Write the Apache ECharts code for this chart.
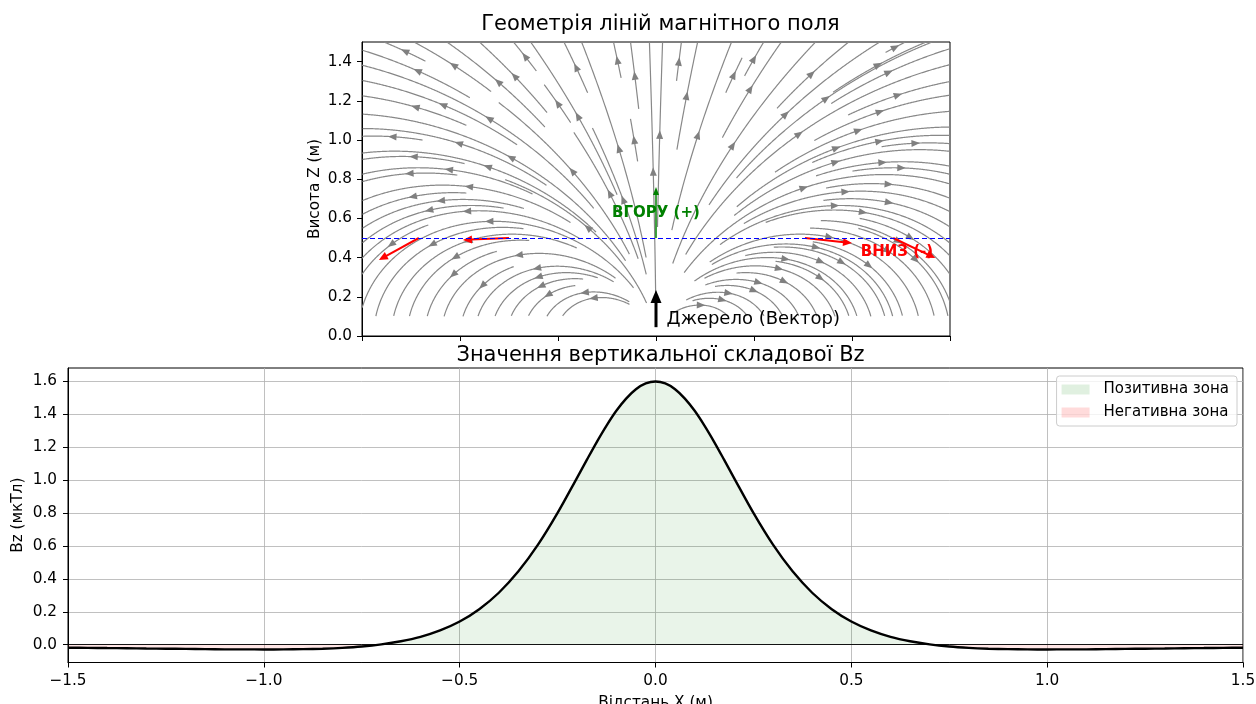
<!DOCTYPE html>
<html>
<head>
<meta charset="utf-8">
<script src="https://cdn.jsdelivr.net/npm/echarts@6/dist/echarts.min.js"></script>
<style>
html, body { margin: 0; padding: 0; background: #fff; }
#main { width: 1256px; height: 704px; }
</style>
</head>
<body>
<div id="main"></div>
<script>
// ---------- lower panel: Bz along the line z = 0.5 ----------
var bzX = [-1.5,-1.45,-1.4,-1.35,-1.3,-1.25,-1.2,-1.15,-1.1,-1.05,
  -1.0,-0.95,-0.9,-0.85,-0.8,-0.75,-0.7,-0.65,-0.6,-0.55,
  -0.5,-0.45,-0.4,-0.35,-0.3,-0.25,-0.2,-0.175,-0.15,-0.125,-0.1,-0.075,-0.05,-0.025,
  0,
  0.025,0.05,0.075,0.1,0.125,0.15,0.175,0.2,0.25,0.3,0.35,0.4,0.45,0.5,
  0.55,0.6,0.65,0.7,0.75,0.8,0.85,0.9,0.95,1.0,
  1.05,1.1,1.15,1.2,1.25,1.3,1.35,1.4,1.45,1.5];
var bzVal = [-0.018,-0.019,-0.020,-0.021,-0.023,-0.024,-0.025,-0.027,-0.028,-0.028,
  -0.029,-0.028,-0.027,-0.024,-0.019,-0.011,0.002,0.021,0.048,0.087,
  0.141,0.216,0.316,0.446,0.608,0.801,1.016,1.125,1.232,1.332,1.422,1.496,1.553,1.588,
  1.600,
  1.588,1.553,1.496,1.422,1.332,1.232,1.125,1.016,0.801,0.608,0.446,0.316,0.216,0.141,
  0.087,0.048,0.021,0.002,-0.011,-0.019,-0.024,-0.027,-0.028,-0.029,
  -0.028,-0.028,-0.027,-0.025,-0.024,-0.023,-0.021,-0.020,-0.019,-0.018];
var bzTicks = [0, 0.2, 0.4, 0.6, 0.8, 1.0, 1.2, 1.4, 1.6];
var zTicks = [0, 0.2, 0.4, 0.6, 0.8, 1.0, 1.2, 1.4];

// ---------- upper panel: field lines r = L*sin^2(theta) ----------
// [L, start angle, end angle] in degrees from the vertical
var linesLeft = [
  [0.51,40,90],[0.584,38,90],[0.675,58,90],[0.76,52,90],[0.84,45,90],[0.925,38,90],
  [1.0,64,90],[1.095,35,90],[1.18,62,90],[1.27,53,90],[1.35,42,90],[1.44,51,90],
  [1.52,25,90],[1.6,64,90],[1.66,38,90],[1.73,50,90],[1.81,46,90],[1.9,53,90],
  [2.0,37,90],[2.16,51,90],[2.23,41,90],[2.3,16,44],[2.38,48,90],[2.45,30,90],
  [2.65,50,90],[2.75,36,90],[2.95,22,90],[3.23,42,90],[3.49,36,90],[3.77,26,90],
  [4.07,38,90],[4.43,40,90],[4.6,18,34],[4.81,34,90],[5.48,28,90],[6.6,26,90],
  [8.0,13,22],[8.5,21.8,24],[8.76,24.3,90],[10.6,15.4,90],[13,9,17],[17.6,15.7,90],
  [25.7,7.2,90],[74,7.7,90],[82,6.0,6.7],[202,4.35,90],[3000,0.44,90]
];
var linesRight = [
  [0.41,36,90],[0.5,46,90],[0.58,40,90],[0.67,50,90],[0.75,44,90],[0.84,52,90],
  [0.93,40,90],[1.0,58,90],[1.04,35,90],[1.11,48,90],[1.18,53,90],[1.22,38,90],
  [1.27,59,90],[1.35,36,90],[1.43,55,90],[1.5,62,90],
  [1.53,55,90],[1.6,60,90],[1.67,44,90],[1.73,35,90],[1.82,51,90],[1.92,38,90],
  [2.02,49,90],[2.14,24,90],[2.23,50,90],[2.31,45,90],[2.47,33,90],[2.56,50,90],
  [2.66,42,90],[2.77,32,90],[2.99,36,90],[3.24,39,90],[3.47,41,90],[3.78,20,90],
  [4.1,37,90],[4.39,27,90],[4.45,36,90],[4.7,39,90],[5.14,22,90],[5.97,28,90],
  [7.5,13,90],[10.6,18.5,90],[13.5,18.8,90],[17,16,17.2],[25,8.5,90],
  [77,6.4,90],[203,4.6,90],[3000,0.78,90]
];

// field direction arrows on the z = 0.5 line: start x, dx, dz
var probeX = [-1.21, -0.75, 0.76, 1.21];
var probeDX = [-0.204, -0.235, 0.24, 0.215];
var probeDZ = [-0.112, -0.01, -0.026, -0.102];
var upArrow = [0, 0.5, 0, 0.26];
var sourceArrow = [0, 0.045, 0, 0.19];
var measureZ = 0.5;

var FONT = 'DejaVu Sans';
var chart = echarts.init(document.getElementById('main'));

var streamData = [];
linesLeft.forEach(function (l) { streamData.push([-1, l[0], l[1], l[2]]); });
linesRight.forEach(function (l) { streamData.push([1, l[0], l[1], l[2]]); });

function renderStream(params, api) {
  var side = api.value(0), L = api.value(1);
  var a = api.value(2) * Math.PI / 180, b = api.value(3) * Math.PI / 180;
  var pts = [], started = false, th = a;
  while (th <= b + 1e-9) {
    var s = Math.sin(th), c = Math.cos(th), r = L * s * s;
    if (r > 2.3) break;
    var x = side * r * s, z = r * c;
    if (z >= 0.1 && z <= 1.5 && x >= -1.5 && x <= 1.5) {
      pts.push(api.coord([x, z]));
      started = true;
    } else if (started) break;
    var dr = 2 * L * s * c;
    th += Math.min(0.01, 0.004 / Math.sqrt(dr * dr + r * r + 1e-12));
  }
  if (pts.length < 2) return null;
  var seg = [], len = 0, i;
  for (i = 1; i < pts.length; i++) {
    var d = Math.hypot(pts[i][0] - pts[i - 1][0], pts[i][1] - pts[i - 1][1]);
    seg.push(d); len += d;
  }
  var half = len / 2, acc = 0, k = 0;
  while (k < seg.length - 1 && acc + seg[k] < half) { acc += seg[k]; k++; }
  var p0 = pts[k], p1 = pts[k + 1], sl = seg[k] || 1;
  var t = (half - acc) / sl;
  var mx = p0[0] + (p1[0] - p0[0]) * t, my = p0[1] + (p1[1] - p0[1]) * t;
  var ux = (p1[0] - p0[0]) / sl, uy = (p1[1] - p0[1]) / sl;
  var head = [[mx + ux * 4.5, my + uy * 4.5],
    [mx - ux * 4 - uy * 3.5, my - uy * 4 + ux * 3.5],
    [mx - ux * 4 + uy * 3.5, my - uy * 4 - ux * 3.5]];
  return {
    type: 'group',
    children: [
      { type: 'polyline', shape: { points: pts }, style: { stroke: '#888888', lineWidth: 1.2, fill: null } },
      { type: 'polygon', shape: { points: head }, style: { fill: '#808080' } }
    ]
  };
}

var arrowKinds = [
  { color: '#ff0000', shaft: 2, hl: 9, hw: 8 },
  { color: '#008000', shaft: 1.5, hl: 8, hw: 6 },
  { color: '#000000', shaft: 3, hl: 13, hw: 11 }
];
var arrowData = [];
probeX.forEach(function (x, i) { arrowData.push([x, measureZ, probeDX[i], probeDZ[i], 0]); });
arrowData.push([upArrow[0], upArrow[1], upArrow[2], upArrow[3], 1]);
arrowData.push([sourceArrow[0], sourceArrow[1], sourceArrow[2], sourceArrow[3], 2]);

function renderArrow(params, api) {
  var x = api.value(0), z = api.value(1), dx = api.value(2), dz = api.value(3);
  var st = arrowKinds[api.value(4)];
  var p0 = api.coord([x, z]), p1 = api.coord([x + dx, z + dz]);
  var l = Math.hypot(p1[0] - p0[0], p1[1] - p0[1]);
  var ux = (p1[0] - p0[0]) / l, uy = (p1[1] - p0[1]) / l;
  var bx = p1[0] - ux * st.hl, by = p1[1] - uy * st.hl;
  return {
    type: 'group',
    children: [
      { type: 'line', shape: { x1: p0[0], y1: p0[1], x2: bx + ux, y2: by + uy },
        style: { stroke: st.color, lineWidth: st.shaft } },
      { type: 'polygon', shape: { points: [p1,
          [bx - uy * st.hw / 2, by + ux * st.hw / 2],
          [bx + uy * st.hw / 2, by - ux * st.hw / 2]] },
        style: { fill: st.color } }
    ]
  };
}

var notes = [
  { value: [0.0, 0.628], label: { show: true, position: 'inside', formatter: 'ВГОРУ (+)',
      color: '#008000', fontWeight: 'bold', fontSize: 15, fontFamily: FONT } },
  { value: [1.229, 0.43], label: { show: true, position: 'inside', formatter: 'ВНИЗ (-)',
      color: '#ff0000', fontWeight: 'bold', fontSize: 15, fontFamily: FONT } },
  { value: [0.054, 0.087], label: { show: true, position: 'right', distance: 0, formatter: 'Джерело (Вектор)',
      color: '#000', fontSize: 18, fontFamily: FONT } }
];

var posData = bzX.map(function (x, i) { return [x, Math.max(bzVal[i], 0)]; });
var negData = bzX.map(function (x, i) { return [x, Math.min(bzVal[i], 0)]; });
var curveData = bzX.map(function (x, i) { return [x, bzVal[i]]; });

var axisText = { color: '#000', fontSize: 15.3, fontFamily: FONT };
var gridLine = { show: true, lineStyle: { color: '#b0b0b0', width: 0.8 } };
function fmt(v) { return (v < 0 ? '\u2212' : '') + Math.abs(v).toFixed(1); }

var option = {
  animation: false,
  backgroundColor: '#fff',
  textStyle: { fontFamily: FONT },
  title: [
    { text: 'Геометрія ліній магнітного поля', left: 655.5, top: 9, textAlign: 'center',
      textStyle: { fontSize: 21, fontWeight: 'normal', color: '#000', fontFamily: FONT } },
    { text: 'Значення вертикальної складової Bz', left: 655.5, top: 340, textAlign: 'center',
      textStyle: { fontSize: 21, fontWeight: 'normal', color: '#000', fontFamily: FONT } }
  ],
  legend: {
    orient: 'vertical', right: 19, top: 376,
    padding: [6, 8, 6, 5], itemGap: 8, itemWidth: 28, itemHeight: 10,
    backgroundColor: 'rgba(255,255,255,0.8)', borderColor: '#cccccc', borderWidth: 1, borderRadius: 3,
    textStyle: { color: '#000', fontSize: 15, fontFamily: FONT, padding: [0, 0, 0, 9] },
    data: [
      { name: 'Позитивна зона', icon: 'rect', itemStyle: { color: 'rgba(0,128,0,0.12)', borderWidth: 0 } },
      { name: 'Негативна зона', icon: 'rect', itemStyle: { color: 'rgba(255,0,0,0.14)', borderWidth: 0 } }
    ]
  },
  grid: [
    { left: 362, top: 42, width: 588, height: 294, show: true, borderColor: '#000', borderWidth: 1,
      backgroundColor: 'transparent', outerBoundsMode: 'none', containLabel: false },
    { left: 68, top: 368, width: 1175, height: 294.5, show: true, borderColor: '#000', borderWidth: 1,
      backgroundColor: 'transparent', outerBoundsMode: 'none', containLabel: false }
  ],
  xAxis: [
    { gridIndex: 0, type: 'value', min: -1.5, max: 1.5, interval: 0.5,
      axisLine: { show: true, onZero: false, lineStyle: { color: '#000' } },
      axisTick: { show: true, length: 5, lineStyle: { color: '#000' } },
      axisLabel: { show: false }, splitLine: { show: false } },
    { gridIndex: 1, type: 'value', min: -1.5, max: 1.5, interval: 0.5,
      name: 'Відстань X (м)', nameLocation: 'middle', nameGap: 33, nameMoveOverlap: false,
      nameTextStyle: axisText,
      axisLine: { show: true, onZero: false, lineStyle: { color: '#000' } },
      axisTick: { show: true, length: 5, lineStyle: { color: '#000' } },
      axisLabel: Object.assign({ margin: 11, formatter: fmt }, axisText),
      splitLine: gridLine }
  ],
  yAxis: [
    { gridIndex: 0, type: 'value', min: 0, max: 1.5,
      name: 'Висота Z (м)', nameLocation: 'middle', nameGap: 39, nameRotate: 90,
      nameTextStyle: axisText,
      axisLine: { show: true, onZero: false, lineStyle: { color: '#000' } },
      axisTick: { show: true, length: 5, customValues: zTicks, lineStyle: { color: '#000' } },
      axisLabel: Object.assign({ margin: 10, customValues: zTicks, formatter: fmt }, axisText),
      splitLine: { show: false } },
    { gridIndex: 1, type: 'value', min: -0.108, max: 1.682,
      name: 'Bz (мкТл)', nameLocation: 'middle', nameGap: 42, nameRotate: 90, nameMoveOverlap: false,
      nameTextStyle: axisText,
      axisLine: { show: true, onZero: false, lineStyle: { color: '#000' } },
      axisTick: { show: true, length: 5, customValues: bzTicks, lineStyle: { color: '#000' } },
      axisLabel: Object.assign({ margin: 11, customValues: bzTicks, formatter: fmt }, axisText),
      splitLine: gridLine }
  ],
  series: [
    { type: 'custom', name: 'streams', xAxisIndex: 0, yAxisIndex: 0, silent: true, clip: true,
      renderItem: renderStream, data: streamData, z: 2 },
    { type: 'line', name: 'level', xAxisIndex: 0, yAxisIndex: 0, data: [], silent: true, z: 3,
      markLine: { silent: true, symbol: 'none', label: { show: false },
        lineStyle: { color: '#0000ff', width: 1.2, type: [5, 3] },
        data: [{ yAxis: measureZ }] } },
    { type: 'custom', name: 'arrows', xAxisIndex: 0, yAxisIndex: 0, silent: true, clip: false,
      renderItem: renderArrow, data: arrowData, z: 4 },
    { type: 'scatter', name: 'notes', xAxisIndex: 0, yAxisIndex: 0, symbolSize: 0, silent: true,
      itemStyle: { opacity: 1 }, data: notes, z: 5 },
    { type: 'line', name: 'Позитивна зона', xAxisIndex: 1, yAxisIndex: 1, data: posData,
      smooth: 0.3, showSymbol: false, symbol: 'none',
      lineStyle: { width: 0, opacity: 0 }, itemStyle: { color: 'rgba(0,128,0,0.12)' },
      areaStyle: { color: 'rgba(0,128,0,0.12)', origin: 0 }, z: 2 },
    { type: 'line', name: 'Негативна зона', xAxisIndex: 1, yAxisIndex: 1, data: negData,
      smooth: 0.3, showSymbol: false, symbol: 'none',
      lineStyle: { width: 0, opacity: 0 }, itemStyle: { color: 'rgba(255,0,0,0.14)' },
      areaStyle: { color: 'rgba(255,0,0,0.14)', origin: 0 }, z: 2 },
    { type: 'line', name: 'Bz', xAxisIndex: 1, yAxisIndex: 1, data: curveData,
      smooth: 0.3, showSymbol: false, symbol: 'none',
      lineStyle: { color: '#000', width: 2.4 }, itemStyle: { color: '#000' }, z: 4,
      markLine: { silent: true, symbol: 'none', label: { show: false },
        lineStyle: { color: '#000', width: 0.9, type: 'solid' },
        data: [{ yAxis: 0 }] } }
  ]
};
chart.setOption(option);
</script>
</body>
</html>
